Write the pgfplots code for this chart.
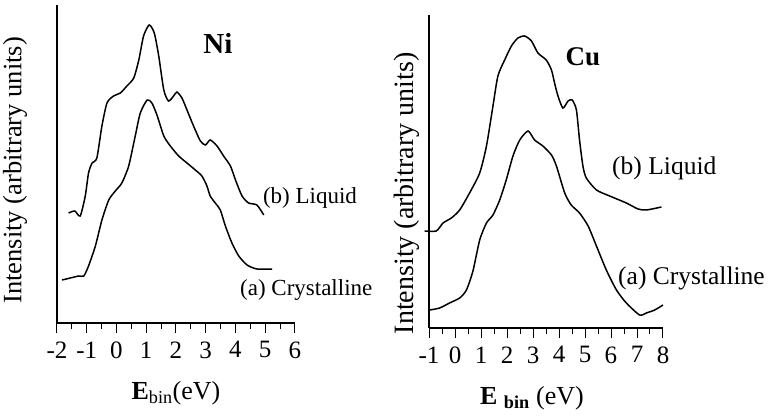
\documentclass[border=0pt]{standalone}
\usepackage{fontspec}
\setmainfont{Liberation Serif}
\usepackage{pgfplots}
\pgfplotsset{compat=1.18}
\newcommand\tickfont{\fontsize{25}{29}\selectfont}

\pgfplotsset{
  spec/.style={
    scale only axis,
    axis x line=bottom, axis y line=left,
    axis line style={-, line width=1.2pt},
    ytick=\empty,
    xtick pos=bottom, tick align=outside,
    minor x tick num=1,
    major tick length=10pt, minor tick length=6pt,
    every tick/.style={black, line width=1pt},
    tick label style={font=\tickfont},
    xticklabel style={yshift=-5pt},
    xlabel style={font=\fontsize{26}{30}\selectfont, inner sep=0pt},
    ylabel style={inner sep=0pt},
    clip=false,
  },
  curve/.style={black, line width=1.5pt, smooth, tension=0.4},
}

\begin{document}
\begin{tikzpicture}
\path (-57pt,-94pt) rectangle (712pt,323pt);

% Ni
\begin{axis}[spec,
  at={(0,0)}, anchor=south west,
  width=238pt, height=318pt,
  xmin=-2, xmax=6, ymin=0, ymax=318,
  xtick={-2,-1,0,1,2,3,4,5,6},
  xticklabels={-2,-1,0,1,2,3,4,5,6},
  xlabel={\textbf{E}\textsubscript{bin}(eV)},
  xlabel style={at={(axis description cs:0.50,-0.22)}, anchor=center},
  ylabel={Intensity (arbitrary units)},
  ylabel style={font=\fontsize{26.5}{30}\selectfont,
    at={(axis description cs:-0.176,0.48)}, anchor=center},
]
% (b) liquid
\addplot[curve] coordinates {
(-1.61,110) (-1.40,112) (-1.22,107) (-1.05,127) (-0.94,150) (-0.82,160)
(-0.66,165) (-0.49,197) (-0.32,220) (-0.10,227) (0.13,230) (0.35,237)
(0.58,245) (0.75,263) (0.91,287) (1.10,298) (1.27,290) (1.42,267)
(1.59,233) (1.75,222) (1.92,227) (2.03,231) (2.20,225) (2.37,213)
(2.59,197) (2.82,182) (2.99,178) (3.15,183) (3.38,177) (3.60,167)
(3.83,157) (4.00,143) (4.22,127) (4.44,120) (4.72,118) (4.95,108)
};
% (a) crystalline
\addplot[curve] coordinates {
(-1.83,43) (-1.55,45) (-1.27,47) (-1.10,47) (-0.94,57) (-0.71,77)
(-0.49,103) (-0.26,123) (-0.04,132) (0.18,140) (0.41,157) (0.63,187)
(0.80,210) (1.03,223) (1.19,220) (1.36,208) (1.59,187) (1.81,177)
(2.09,167) (2.37,160) (2.65,153) (2.87,147) (3.04,137) (3.15,127)
(3.32,120) (3.49,113) (3.66,97) (3.88,80) (4.11,67) (4.39,58)
(4.72,54) (5.23,54)
};
\node[font=\fontsize{29}{33}\selectfont\bfseries, inner sep=0pt] at (axis cs:3.41,280) {Ni};
\node[font=\fontsize{23}{27}\selectfont, anchor=west, inner sep=0pt] at (axis cs:4.92,125) {(b) Liquid};
\node[font=\fontsize{23}{27}\selectfont, anchor=west, inner sep=0pt] at (axis cs:4.15,33) {(a) Crystalline};
\end{axis}

% Cu
\begin{axis}[spec,
  at={(372pt,-5pt)}, anchor=south west,
  width=234pt, height=313pt,
  xmin=-1, xmax=8, ymin=0, ymax=313,
  xtick={-1,0,1,2,3,4,5,6,7,8},
  xticklabels={-1,0,1,2,3,4,5,6,7,8},
  xlabel={\textbf{E \textsubscript{bin}} (eV)},
  xlabel style={at={(axis description cs:0.44,-0.225)}, anchor=center},
  ylabel={Intensity (arbitrary units)},
  ylabel style={font=\fontsize{28}{32}\selectfont,
    at={(axis description cs:-0.094,0.43)}, anchor=center},
]
% (b) liquid
\addplot[curve] coordinates {
(-1.17,97) (-0.72,97) (-0.46,105) (-0.14,110) (0.18,118) (0.56,135)
(0.95,155) (1.21,182) (1.46,222) (1.65,252) (1.91,268) (2.17,282)
(2.42,290) (2.68,292) (2.94,287) (3.19,275) (3.51,268) (3.71,258)
(3.83,245) (3.96,232) (4.15,220) (4.35,227) (4.51,228) (4.67,218)
(4.79,188) (4.92,162) (5.05,150) (5.44,138) (5.95,132) (6.59,125)
(7.04,119) (7.36,118) (7.94,121)
};
% (a) crystalline
\addplot[curve] coordinates {
(-0.97,18) (-0.59,20) (-0.21,25) (0.18,30) (0.44,38) (0.69,57)
(0.95,88) (1.21,105) (1.46,113) (1.72,128) (1.97,148) (2.23,172)
(2.49,188) (2.81,197) (3.06,188) (3.38,182) (3.71,173) (3.90,162)
(4.22,135) (4.47,123) (4.79,115) (5.12,102) (5.44,82) (5.82,58)
(6.21,38) (6.59,25) (7.10,13) (7.36,15) (7.68,18) (8.00,23)
};
\node[font=\fontsize{27}{31}\selectfont\bfseries, inner sep=0pt] at (axis cs:4.92,271) {Cu};
\node[font=\fontsize{25.5}{29}\selectfont, anchor=west, inner sep=0pt] at (axis cs:6.04,160) {(b) Liquid};
\node[font=\fontsize{25.5}{29}\selectfont, anchor=west, inner sep=0pt] at (axis cs:6.27,50) {(a) Crystalline};
\end{axis}
\end{tikzpicture}
\end{document}
